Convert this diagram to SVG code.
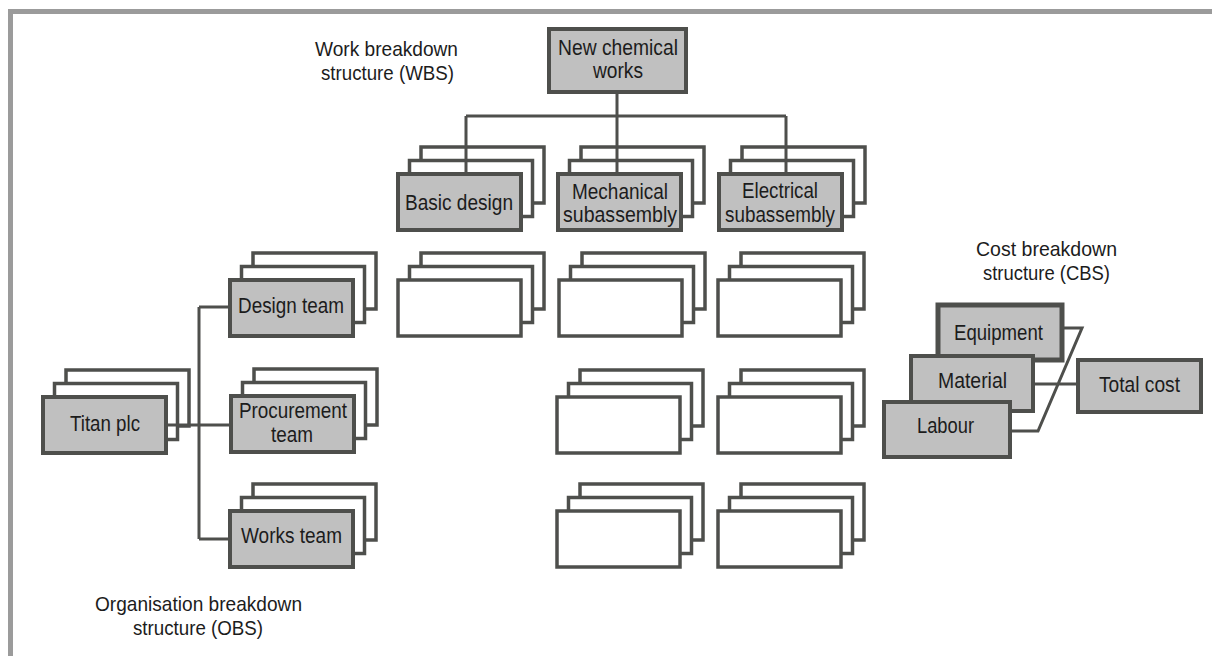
<svg xmlns="http://www.w3.org/2000/svg" xmlns:xlink="http://www.w3.org/1999/xlink" width="1212" height="656" viewBox="0 0 1212 656">
  <style>
    .frame { fill: none; stroke: #9b9b9b; stroke-width: 5; }
    .layer { fill: #ffffff; stroke: #4e4f4c; stroke-width: 3.5; }
    .grey { fill: #c0c0c0; stroke: #4e4f4c; stroke-width: 4; }
    .wire { fill: none; stroke: #4e4f4c; stroke-width: 3; }
    text { font-family: "Liberation Sans", Arial, sans-serif; font-size: 22px; fill: #1c1c1c; }
    .caption { font-size: 21px; }
  </style>
  <defs>
    <!-- three overlapping sheets; origin is the outer top-left corner of the front sheet -->
    <g id="stack-grey">
      <rect class="layer" x="25" y="-25" width="123" height="56"/>
      <rect class="layer" x="13.5" y="-11.5" width="123" height="56"/>
      <rect class="grey" x="2" y="2" width="123" height="56"/>
    </g>
    <g id="stack-white">
      <rect class="layer" x="25" y="-25" width="123" height="56"/>
      <rect class="layer" x="13.5" y="-11.5" width="123" height="56"/>
      <rect class="layer" x="2" y="2" width="123" height="56"/>
    </g>
  </defs>

  <rect width="1212" height="656" fill="#ffffff"/>
  <path class="frame" d="M10.5,662 V11.5 H1220"/>

  <!-- section titles -->
  <g id="title-wbs">
    <text class="caption" x="315" y="56" textLength="143" lengthAdjust="spacingAndGlyphs">Work breakdown</text>
    <text class="caption" x="321" y="80" textLength="133" lengthAdjust="spacingAndGlyphs">structure (WBS)</text>
  </g>
  <g id="title-obs">
    <text class="caption" x="95" y="611" textLength="207" lengthAdjust="spacingAndGlyphs">Organisation breakdown</text>
    <text class="caption" x="133" y="635" textLength="130" lengthAdjust="spacingAndGlyphs">structure (OBS)</text>
  </g>
  <g id="title-cbs">
    <text class="caption" x="976" y="256" textLength="141" lengthAdjust="spacingAndGlyphs">Cost breakdown</text>
    <text class="caption" x="983" y="280" textLength="127" lengthAdjust="spacingAndGlyphs">structure (CBS)</text>
  </g>

  <!-- work breakdown structure -->
  <g id="new-chemical-works">
    <rect class="grey" x="549" y="29" width="137" height="63"/>
    <text x="558" y="55" textLength="120" lengthAdjust="spacingAndGlyphs">New chemical</text>
    <text x="593" y="78" textLength="50" lengthAdjust="spacingAndGlyphs">works</text>
  </g>
  <g id="basic-design">
    <use xlink:href="#stack-grey" x="396" y="172"/>
    <text x="405" y="210" textLength="108" lengthAdjust="spacingAndGlyphs">Basic design</text>
  </g>
  <g id="mechanical-subassembly">
    <use xlink:href="#stack-grey" x="556" y="172"/>
    <text x="572" y="199" textLength="96" lengthAdjust="spacingAndGlyphs">Mechanical</text>
    <text x="563" y="222" textLength="114" lengthAdjust="spacingAndGlyphs">subassembly</text>
  </g>
  <g id="electrical-subassembly">
    <use xlink:href="#stack-grey" x="717" y="172"/>
    <text x="742" y="198" textLength="76" lengthAdjust="spacingAndGlyphs">Electrical</text>
    <text x="725" y="222" textLength="110" lengthAdjust="spacingAndGlyphs">subassembly</text>
  </g>
  <g id="wbs-1-2"><use xlink:href="#stack-white" x="396" y="278"/></g>
  <g id="wbs-2-2"><use xlink:href="#stack-white" x="557" y="278"/></g>
  <g id="wbs-3-2"><use xlink:href="#stack-white" x="716" y="278"/></g>
  <g id="wbs-2-3"><use xlink:href="#stack-white" x="555" y="395"/></g>
  <g id="wbs-3-3"><use xlink:href="#stack-white" x="716" y="395"/></g>
  <g id="wbs-2-4"><use xlink:href="#stack-white" x="555" y="509"/></g>
  <g id="wbs-3-4"><use xlink:href="#stack-white" x="716" y="509"/></g>

  <!-- organisation breakdown structure -->
  <g id="titan-plc">
    <use xlink:href="#stack-grey" x="41" y="395"/>
    <text x="70" y="431" textLength="70" lengthAdjust="spacingAndGlyphs">Titan plc</text>
  </g>
  <g id="design-team">
    <use xlink:href="#stack-grey" x="228" y="278"/>
    <text x="238" y="313" textLength="106" lengthAdjust="spacingAndGlyphs">Design team</text>
  </g>
  <g id="procurement-team">
    <use xlink:href="#stack-grey" x="229" y="394"/>
    <text x="239" y="418" textLength="108" lengthAdjust="spacingAndGlyphs">Procurement</text>
    <text x="271" y="442" textLength="42" lengthAdjust="spacingAndGlyphs">team</text>
  </g>
  <g id="works-team">
    <use xlink:href="#stack-grey" x="228" y="509"/>
    <text x="241" y="543" textLength="101" lengthAdjust="spacingAndGlyphs">Works team</text>
  </g>

  <!-- cost breakdown structure -->
  <g id="equipment">
    <rect class="grey" x="938" y="305" width="124" height="55" style="stroke-width:5"/>
    <text x="954" y="340" textLength="89" lengthAdjust="spacingAndGlyphs">Equipment</text>
  </g>
  <g id="material">
    <rect class="grey" x="911" y="356" width="122" height="55"/>
    <text x="938" y="388" textLength="69" lengthAdjust="spacingAndGlyphs">Material</text>
  </g>
  <g id="labour">
    <rect class="grey" x="884" y="402" width="126" height="55"/>
    <text x="917" y="433" textLength="57" lengthAdjust="spacingAndGlyphs">Labour</text>
  </g>
  <g id="total-cost">
    <rect class="grey" x="1078" y="360" width="123" height="52"/>
    <text x="1099" y="392" textLength="81" lengthAdjust="spacingAndGlyphs">Total cost</text>
  </g>

  <!-- connectors -->
  <g id="connectors">
    <path class="wire" d="M617,94 V116 M466,116 H786 M466,116 V172 M617,116 V172 M786,116 V172"/>
    <path class="wire" d="M199,307 V539 M199,307 H228 M199,539 H228 M168,425 H229"/>
    <path class="wire" d="M1064,328 H1082 L1038,431 H1012 M1035,384 H1076"/>
  </g>
</svg>
